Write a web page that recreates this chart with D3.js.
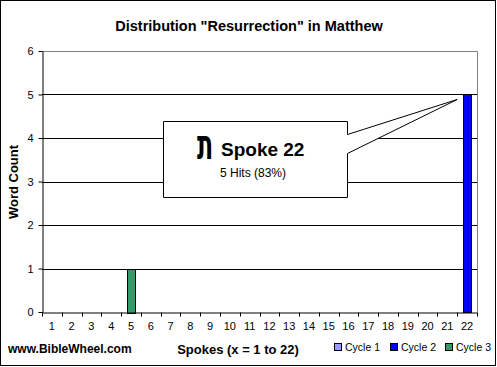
<!DOCTYPE html>
<html>
<head>
<meta charset="utf-8">
<script src="https://cdn.jsdelivr.net/npm/d3@7"></script>
<style>
  body { margin: 0; background: #fff; }
  svg text { font-family: Arial, "Liberation Sans", sans-serif; }
</style>
</head>
<body>
<svg id="chart" width="497" height="367"></svg>
<script>
// Chart data
const spokes = d3.range(1, 23).map(String);
const cycle1 = [0,0,0,0,0,0,0,0,0,0,0,0,0,0,0,0,0,0,0,0,0,0];
const cycle2 = [0,0,0,0,0,0,0,0,0,0,0,0,0,0,0,0,0,0,0,0,0,5];
const cycle3 = [0,0,0,0,1,0,0,0,0,0,0,0,0,0,0,0,0,0,0,0,0,0];
const seriesNames = ["Cycle 1", "Cycle 2", "Cycle 3"];
const seriesColors = ["#9999FF", "#0000FF", "#339966"];
const yTicks = [0, 1, 2, 3, 4, 5, 6];
const calloutLetter = "\u05EA";
const calloutTitle = "Spoke 22";
const calloutText = "5 Hits (83%)";
const calloutSpoke = "22";

const svg = d3.select("#chart");
const margin = { top: 51, right: 20, bottom: 55, left: 42 };
const width = 477 - margin.left;
const height = 312 - margin.top;

// outer frame
svg.append("rect")
    .attr("x", 0.5).attr("y", 0.5)
    .attr("width", 495).attr("height", 365)
    .attr("fill", "#fff").attr("stroke", "#000");

const g = svg.append("g")
    .attr("transform", `translate(${margin.left},${margin.top})`);

// scales
const x = d3.scaleBand()
    .domain(spokes)
    .range([0, width])
    .paddingInner(0.6)
    .paddingOuter(0.3);
const step = x.step();

const y = d3.scaleLinear()
    .domain([0, 6])
    .range([height, 0]);

// gridlines
g.append("g")
    .selectAll("line")
    .data(yTicks.filter(d => d > 0 && d < 6))
    .join("line")
    .attr("x1", 0).attr("x2", width)
    .attr("y1", d => Math.round(y(d)) + 0.5)
    .attr("y2", d => Math.round(y(d)) + 0.5)
    .attr("stroke", "#000");

// plot border top & right (gray)
g.append("path")
    .attr("d", `M0,0.5H${width + 0.5}V${height}`)
    .attr("fill", "none")
    .attr("stroke", "#808080");

// stacked bars
const rows = spokes.map((s, i) => ({ spoke: s, "Cycle 1": cycle1[i], "Cycle 2": cycle2[i], "Cycle 3": cycle3[i] }));
const stack = d3.stack().keys(seriesNames)(rows);

stack.forEach((layer, k) => {
    g.append("g")
        .selectAll("rect")
        .data(layer.filter(d => d[1] - d[0] > 0))
        .join("rect")
        .attr("x", d => Math.round(x(d.data.spoke)) + 0.5)
        .attr("y", d => Math.round(y(d[1])) + 0.5)
        .attr("width", Math.round(x.bandwidth()))
        .attr("height", d => Math.round(y(d[0]) - y(d[1])))
        .attr("fill", seriesColors[k])
        .attr("stroke", "#000");
});

// y axis
const yAxis = g.append("g")
    .attr("transform", "translate(0.5,0)")
    .call(d3.axisLeft(y).tickValues(yTicks).tickFormat(d3.format("d"))
        .tickSize(4).tickPadding(5).tickSizeOuter(0));
yAxis.select(".domain").attr("stroke", "#000");
yAxis.selectAll(".tick line").attr("stroke", "#000");
yAxis.selectAll("text").style("font-size", "11px").attr("fill", "#000");

// x axis
const xAxis = g.append("g")
    .attr("transform", `translate(0,${height + 0.5})`)
    .call(d3.axisBottom(x).tickSize(0).tickPadding(10).tickSizeOuter(0));
xAxis.select(".domain").attr("stroke", "#000");
xAxis.selectAll("text").style("font-size", "11px").attr("fill", "#000");

// x tick marks at category boundaries
xAxis.append("g")
    .selectAll("line")
    .data(d3.range(spokes.length + 1))
    .join("line")
    .attr("x1", i => Math.round(i * step) + 0.5)
    .attr("x2", i => Math.round(i * step) + 0.5)
    .attr("y1", 0).attr("y2", 4)
    .attr("stroke", "#000");

// title
svg.append("text")
    .attr("x", 249).attr("y", 31)
    .attr("text-anchor", "middle")
    .style("font-size", "14.5px").style("font-weight", "bold")
    .text("Distribution \"Resurrection\" in Matthew");

// axis titles
svg.append("text")
    .attr("transform", "translate(18,182) rotate(-90)")
    .attr("text-anchor", "middle")
    .style("font-size", "13px").style("font-weight", "bold")
    .text("Word Count");

svg.append("text")
    .attr("x", 238).attr("y", 354)
    .attr("text-anchor", "middle")
    .style("font-size", "13px").style("font-weight", "bold")
    .text("Spokes (x = 1 to 22)");

svg.append("text")
    .attr("x", 8).attr("y", 353)
    .style("font-size", "12px").style("font-weight", "bold")
    .text("www.BibleWheel.com");

// legend
const legend = svg.append("g").attr("transform", "translate(334,351)");
const legendX = [0, 56, 111];
seriesNames.forEach((name, i) => {
    const item = legend.append("g").attr("transform", `translate(${legendX[i]},0)`);
    item.append("rect")
        .attr("x", 0.5).attr("y", -7.5)
        .attr("width", 7).attr("height", 7)
        .attr("fill", seriesColors[i]).attr("stroke", "#000");
    item.append("text")
        .attr("x", 11).attr("y", 0)
        .style("font-size", "10.5px")
        .text(name);
});

// callout
const tipX = margin.left + x(calloutSpoke) - 6;
const tipY = margin.top + y(5) + 5;
const box = { x: 163, y: 121, w: 184, h: 76 };
svg.append("path")
    .attr("d", `M${box.x + 0.5},${box.y + 0.5}H${box.x + box.w + 0.5}V134.5L${tipX},${tipY}L${box.x + box.w + 0.5},153.5V${box.y + box.h + 0.5}H${box.x + 0.5}Z`)
    .attr("fill", "#fff")
    .attr("stroke", "#000");

// tall narrow Hebrew letter, stretched vertically
svg.append("text")
    .attr("transform", "translate(197,159) scale(0.95,1.65)")
    .style("font-size", "25px").style("font-weight", "bold")
    .style("font-family", "'DejaVu Sans', sans-serif")
    .text(calloutLetter);

svg.append("text")
    .attr("x", 221).attr("y", 156)
    .style("font-size", "19px").style("font-weight", "bold")
    .text(calloutTitle);

svg.append("text")
    .attr("x", 253).attr("y", 177)
    .attr("text-anchor", "middle")
    .style("font-size", "12px")
    .text(calloutText);
</script>
</body>
</html>
